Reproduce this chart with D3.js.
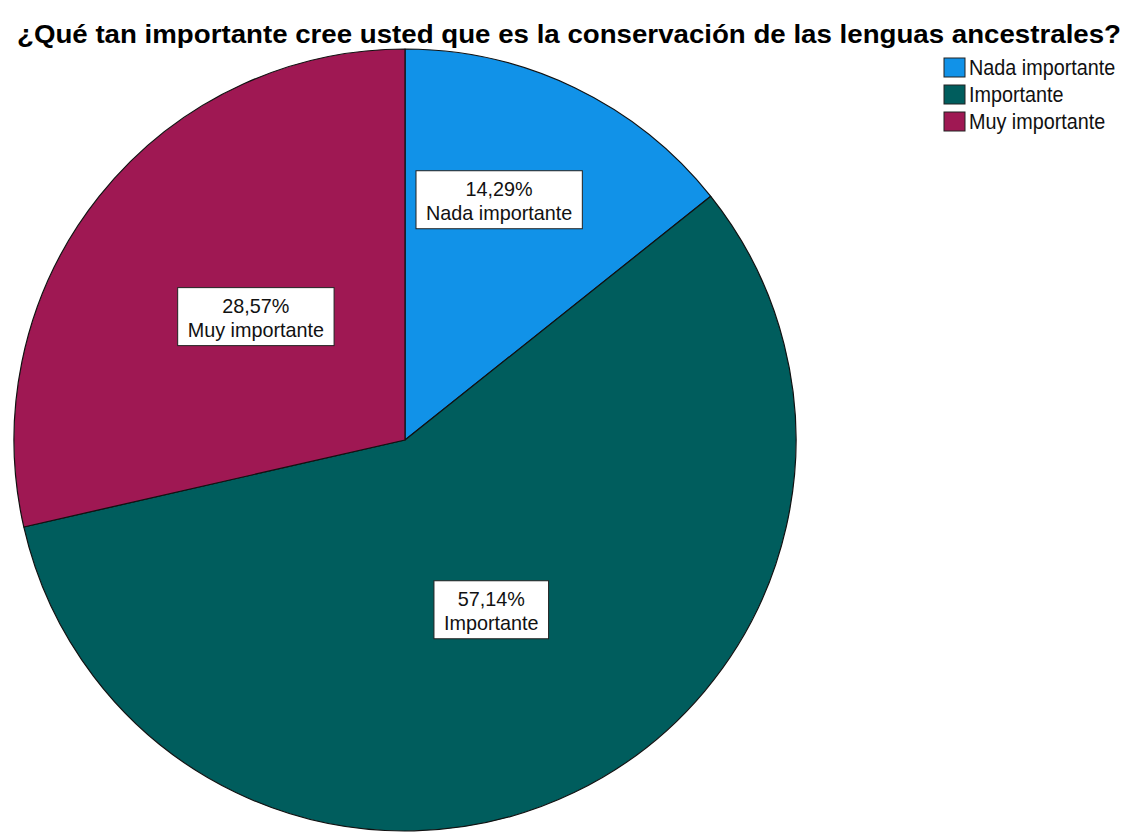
<!DOCTYPE html>
<html lang="es">
<head>
<meta charset="utf-8">
<script src="https://cdn.jsdelivr.net/npm/d3@7"></script>
<style>
  html, body { margin: 0; padding: 0; background: #ffffff; }
  svg { display: block; }
  text { font-family: "Liberation Sans", Arial, sans-serif; }
</style>
</head>
<body>
<script>
// Response categories, shares (%) and slice colours
const categories = ["Nada importante", "Importante", "Muy importante"];
const percents = [14.29, 57.14, 28.57];
const percentLabels = ["14,29%", "57,14%", "28,57%"];
const colors = ["#1192e8", "#005d5d", "#9f1853"];
const title = "¿Qué tan importante cree usted que es la conservación de las lenguas ancestrales?";

const W = 1137, H = 832;
const cx = 405, cy = 440, R = 391;

const svg = d3.select("body").append("svg")
  .attr("width", W).attr("height", H);

// Title: bold, condensed to the chart width
svg.append("text")
  .attr("x", 17).attr("y", 43)
  .attr("font-size", 25).attr("font-weight", "bold")
  .attr("fill", "#000")
  .attr("textLength", 1104).attr("lengthAdjust", "spacingAndGlyphs")
  .text(title);

// Pie, starting at 12 o'clock and running clockwise
const data = categories.map((c, i) => ({ cat: c, value: percents[i], label: percentLabels[i], color: colors[i] }));
const pie = d3.pie().sort(null).value(d => d.value);
const arcs = pie(data);
const arc = d3.arc().innerRadius(0).outerRadius(R);

const g = svg.append("g").attr("transform", `translate(${cx},${cy})`);
g.selectAll("path.slice").data(arcs).enter().append("path")
  .attr("class", "slice")
  .attr("d", arc)
  .attr("fill", d => d.data.color)
  .attr("stroke", "#111")
  .attr("stroke-width", 1.2)
  .attr("stroke-linejoin", "round");

// Slice labels: boxed value + category inside each slice
// (fraction along the slice's angle, fraction of the radius)
const labelPlace = [[0.416, 0.66], [0.494, 0.487], [0.51, 0.495]];
const fontSize = 20, squeeze = 0.99, padX = 10, boxH = 58;
arcs.forEach((a, i) => {
  const [fa, fr] = labelPlace[i];
  const ang = a.startAngle + fa * (a.endAngle - a.startAngle);
  const lx = fr * R * Math.sin(ang);
  const ly = -fr * R * Math.cos(ang);
  const lg = g.append("g").attr("transform", `translate(${lx},${ly})`);
  const rect = lg.append("rect").attr("fill", "#fff").attr("stroke", "#222").attr("stroke-width", 1);
  const tg = lg.append("g").attr("transform", `scale(${squeeze},1)`);
  const t1 = tg.append("text").attr("text-anchor", "middle").attr("font-size", fontSize)
    .attr("fill", "#111").attr("y", -4).text(a.data.label);
  const t2 = tg.append("text").attr("text-anchor", "middle").attr("font-size", fontSize)
    .attr("fill", "#111").attr("y", 20).text(a.data.cat);
  const w = squeeze * Math.max(t1.node().getComputedTextLength(), t2.node().getComputedTextLength()) + 2 * padX;
  rect.attr("x", -w / 2).attr("y", -boxH / 2).attr("width", w).attr("height", boxH);
});

// Legend
const legend = svg.append("g").attr("transform", "translate(944,58)");
const rowH = 27;
categories.forEach((c, i) => {
  const row = legend.append("g").attr("transform", `translate(0,${i * rowH})`);
  row.append("rect").attr("x", 0).attr("y", 0).attr("width", 21).attr("height", 19)
    .attr("fill", colors[i]).attr("stroke", "#222").attr("stroke-width", 1);
  row.append("g").attr("transform", "translate(25,17) scale(0.9,1)")
    .append("text").attr("x", 0).attr("y", 0).attr("font-size", 22)
    .attr("fill", "#111").text(c);
});
</script>
</body>
</html>
